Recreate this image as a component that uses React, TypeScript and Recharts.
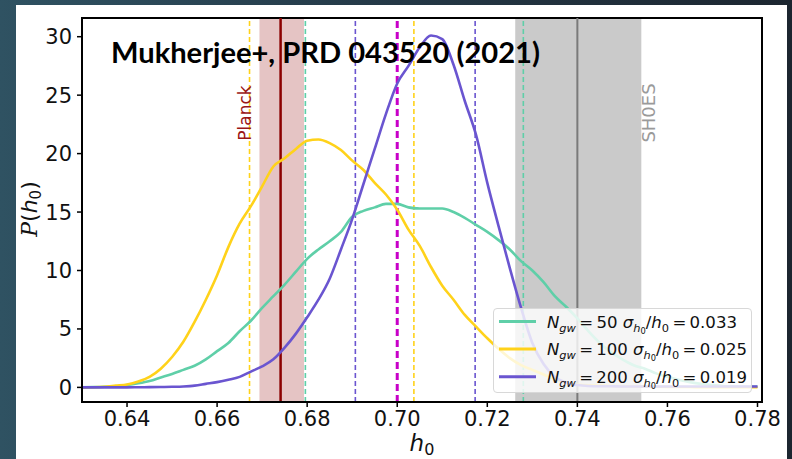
import React from 'react';
import { ComposedChart, Line, XAxis, YAxis, ReferenceArea, ReferenceLine } from 'recharts';

const H0 = [
  0.630, 0.6325, 0.635, 0.6375, 0.640, 0.6425, 0.645, 0.6475, 0.650, 0.6525,
  0.655, 0.6575, 0.660, 0.6625, 0.665, 0.6675, 0.670, 0.6725, 0.675, 0.6775,
  0.680, 0.6825, 0.685, 0.6875, 0.690, 0.6925, 0.695, 0.6975, 0.700, 0.7025,
  0.705, 0.7075, 0.710, 0.7125, 0.715, 0.7175, 0.720, 0.7225, 0.725, 0.7275,
  0.730, 0.7325, 0.735, 0.7375, 0.740, 0.7425, 0.745, 0.7475, 0.750, 0.7525,
  0.755, 0.7575, 0.760, 0.7625, 0.765, 0.7675, 0.770, 0.7725, 0.775, 0.7775, 0.780,
];

const N50 = [
  0, 0.02, 0.05, 0.1, 0.2, 0.35, 0.55, 0.85, 1.15, 1.5,
  1.85, 2.4, 3.1, 3.8, 4.8, 5.7, 6.8, 7.8, 8.8, 9.9,
  11.0, 11.8, 12.5, 13.3, 14.6, 15.1, 15.4, 15.7, 15.7, 15.4,
  15.3, 15.3, 15.3, 15.0, 14.5, 13.9, 13.3, 12.6, 11.8, 10.8,
  10.0, 9.0, 7.8, 6.9, 5.9, 4.8, 3.8, 3.0, 2.4, 1.9,
  1.6, 1.2, 0.9, 0.65, 0.45, 0.3, 0.2, 0.12, 0.08, 0.05, 0.05,
];

const N100 = [
  0, 0.01, 0.05, 0.15, 0.25, 0.5, 0.9, 1.6, 2.6, 3.9,
  5.6, 7.5, 9.6, 12.0, 14.0, 15.5, 17.2, 18.9, 19.6, 20.4,
  21.1, 21.2, 20.9, 20.3, 19.4, 18.6, 17.5, 16.5, 15.2, 13.5,
  12.1, 10.3, 8.7, 7.5, 6.2, 5.2, 4.2, 3.3, 2.5, 1.9,
  1.5, 1.1, 0.7, 0.4, 0.25, 0.18, 0.15, 0.12, 0.1, 0.08,
  0.06, 0.05, 0.04, 0.03, 0.03, 0.02, 0.02, 0.02, 0.01, 0.01, 0.01,
];

const N200 = [
  0, 0, 0, 0, 0, 0.01, 0.02, 0.03, 0.05, 0.08,
  0.15, 0.3, 0.45, 0.65, 0.9, 1.35, 1.8, 2.4, 3.4, 4.6,
  6.0, 7.5, 9.3, 11.8, 14.4, 17.4, 20.4, 23.4, 26.0, 27.5,
  29.1, 30.1, 29.8, 27.6, 24.5, 21.6, 17.5, 13.8, 10.2, 6.8,
  3.8, 2.0, 0.9, 0.4, 0.2, 0.12, 0.1, 0.1, 0.08, 0.08,
  0.08, 0.08, 0.08, 0.08, 0.08, 0.08, 0.08, 0.08, 0.08, 0.08, 0.08,
];

const X_TICKS = [0.64, 0.66, 0.68, 0.70, 0.72, 0.74, 0.76, 0.78];
const Y_TICKS = [0, 5, 10, 15, 20, 25, 30];

const PLANCK_BAND = [0.6694, 0.6793];
const PLANCK_MEAN = 0.6741;
const SHOES_BAND = [0.7262, 0.7542];
const SHOES_MEAN = 0.74;
const TRUE_H0 = 0.70;

const TEAL = '#5fcfa8';
const GOLD = '#ffd21a';
const PURPLE = '#6a55d0';

const INTERVALS = [
  { x: 0.6672, color: GOLD },
  { x: 0.7037, color: GOLD },
  { x: 0.6796, color: TEAL },
  { x: 0.7280, color: TEAL },
  { x: 0.6907, color: PURPLE },
  { x: 0.7173, color: PURPLE },
];

const SERIES = [
  { key: 'n50', n: '50', sigma: '0.033', color: TEAL, len: 190 },
  { key: 'n100', n: '100', sigma: '0.025', color: GOLD, len: 200 },
  { key: 'n200', n: '200', sigma: '0.019', color: PURPLE, len: 200 },
];

const data = H0.map((h, i) => ({ h, n50: N50[i], n100: N100[i], n200: N200[i] }));

const FONT = '"DejaVu Sans", sans-serif';

export default function App() {
  return (
    <div
      style={{
        position: 'absolute',
        left: 0,
        top: 0,
        width: 792,
        height: 459,
        overflow: 'hidden',
        background: 'linear-gradient(to right, #2f5262 0%, #243846 50%, #1c2630 100%)',
      }}
    >
      <div style={{ position: 'absolute', left: 16, top: 5, width: 771, height: 454, background: '#ffffff' }} />
      <div style={{ position: 'absolute', left: 0, top: 0 }}>
        <ComposedChart
          width={792}
          height={459}
          data={data}
          margin={{ top: 18, right: 30, bottom: 7, left: 22 }}
        >
          <XAxis
            dataKey="h"
            type="number"
            domain={[0.63, 0.781]}
            ticks={X_TICKS}
            allowDataOverflow
            tickFormatter={(v: number) => v.toFixed(2)}
            height={50}
            tickSize={5}
            tickMargin={4}
            axisLine={{ stroke: '#000', strokeWidth: 2 }}
            tickLine={{ stroke: '#000', strokeWidth: 1.5 }}
            tick={{ fill: '#111', fontSize: 21, fontFamily: FONT }}
          />
          <YAxis
            type="number"
            domain={[-1.25, 31.6]}
            ticks={Y_TICKS}
            allowDataOverflow
            width={60}
            tickSize={5}
            tickMargin={5}
            axisLine={{ stroke: '#000', strokeWidth: 2 }}
            tickLine={{ stroke: '#000', strokeWidth: 1.5 }}
            tick={{ fill: '#111', fontSize: 21, fontFamily: FONT }}
          />
          <ReferenceArea x1={PLANCK_BAND[0]} x2={PLANCK_BAND[1]} fill="#a83c3c" fillOpacity={0.3} stroke="none" />
          <ReferenceArea x1={SHOES_BAND[0]} x2={SHOES_BAND[1]} fill="#909090" fillOpacity={0.48} stroke="none" />
          {INTERVALS.map((d, i) => (
            <ReferenceLine key={i} x={d.x} stroke={d.color} strokeWidth={1.6} strokeDasharray="5 3" />
          ))}
          <ReferenceLine x={TRUE_H0} stroke="#c800c8" strokeWidth={3} strokeDasharray="7 4" />
          <ReferenceLine x={PLANCK_MEAN} stroke="#8b0000" strokeWidth={2.5} />
          <ReferenceLine x={SHOES_MEAN} stroke="#7a7a7a" strokeWidth={2} />
          {SERIES.map((s) => (
            <Line
              key={s.key}
              dataKey={s.key}
              type="monotone"
              stroke={s.color}
              strokeWidth={2.6}
              dot={false}
              isAnimationActive={false}
            />
          ))}
          <ReferenceArea x1={0.63} x2={0.781} y1={-1.25} y2={31.6} fill="none" stroke="#000" strokeWidth={2} />
        </ComposedChart>
      </div>
      <svg
        width={792}
        height={459}
        style={{ position: 'absolute', left: 0, top: 0, pointerEvents: 'none' }}
      >
        <text
          x={111}
          y={63}
          fontFamily='Lato, "Open Sans", sans-serif'
          fontWeight={700}
          fontSize={29}
          fill="#000"
          textLength={429}
          lengthAdjust="spacingAndGlyphs"
        >
          Mukherjee+, PRD 043520 (2021)
        </text>
        <text
          transform="translate(251,113) rotate(-90)"
          textAnchor="middle"
          fontFamily={FONT}
          fontSize={17}
          fill="#9b1515"
        >
          Planck
        </text>
        <text
          transform="translate(655,113) rotate(-90)"
          textAnchor="middle"
          fontFamily={FONT}
          fontSize={18}
          fill="#9a9a9a"
        >
          SH0ES
        </text>
        <text
          transform="translate(37,209) rotate(-90)"
          textAnchor="middle"
          fontFamily={FONT}
          fontSize={22}
          fill="#111"
        >
          <tspan fontFamily='"DejaVu Serif", serif' fontStyle="italic">P</tspan>
          <tspan>(</tspan>
          <tspan fontStyle="italic">h</tspan>
          <tspan fontSize={15} dy={4}>0</tspan>
          <tspan dy={-4}>)</tspan>
        </text>
        <text x={422} y={451} textAnchor="middle" fontFamily={FONT} fontSize={23} fill="#111">
          <tspan fontStyle="italic">h</tspan>
          <tspan fontSize={16} dy={4}>0</tspan>
        </text>
      </svg>
      <div
        style={{
          position: 'absolute',
          left: 493,
          top: 308,
          width: 259,
          height: 85,
          background: 'rgba(255,255,255,0.8)',
          border: '1px solid #d8d8d8',
          borderRadius: 4,
          boxSizing: 'border-box',
        }}
      >
        <svg width={259} height={85} style={{ position: 'absolute', left: 0, top: 0 }}>
          {SERIES.map((s, i) => {
            const cy = 12.5 + i * 27.6;
            return (
              <g key={s.key}>
                <line x1={5} x2={42} y1={cy} y2={cy} stroke={s.color} strokeWidth={3} />
                <text
                  x={53}
                  y={cy + 6}
                  fontFamily={FONT}
                  fontSize={16}
                  fill="#111"
                  textLength={s.len}
                  lengthAdjust="spacingAndGlyphs"
                >
                  <tspan fontStyle="italic">N</tspan>
                  <tspan fontStyle="italic" fontSize={11} dy={4}>gw</tspan>
                  <tspan dy={-4}>{`\u2009=\u2009${s.n} `}</tspan>
                  <tspan fontStyle="italic">σ</tspan>
                  <tspan fontStyle="italic" fontSize={11} dy={4}>h</tspan>
                  <tspan fontSize={8} dy={2}>0</tspan>
                  <tspan dy={-6}>/</tspan>
                  <tspan fontStyle="italic">h</tspan>
                  <tspan fontSize={11} dy={4}>0</tspan>
                  <tspan dy={-4}>{`\u2009=\u2009${s.sigma}`}</tspan>
                </text>
              </g>
            );
          })}
        </svg>
      </div>
    </div>
  );
}
